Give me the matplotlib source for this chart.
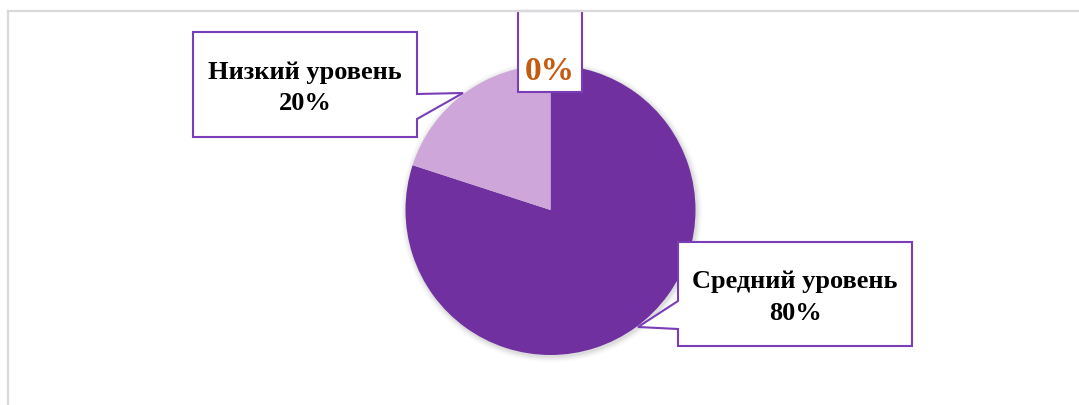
import matplotlib
matplotlib.use("Agg")
import matplotlib.pyplot as plt
from matplotlib.patches import Polygon, Circle
from matplotlib.lines import Line2D

# Data
categories = ["Средний уровень", "Низкий уровень", "Высокий уровень"]
shares = [80, 20, 0]
slice_colors = ["#7030A0", "#CFA6DA", "#B99BD0"]

W, H = 1079, 406
fig = plt.figure(figsize=(W / 100, H / 100), dpi=100)
fig.patch.set_facecolor("white")

# Chart area frame (top and left edges visible)
fig.add_artist(Line2D([8 / W, 1.0], [1 - 11.5 / H, 1 - 11.5 / H],
                      color="#D9D9D9", lw=1.6, transform=fig.transFigure))
fig.add_artist(Line2D([8 / W, 8 / W], [0.0, 1 - 11.5 / H],
                      color="#D9D9D9", lw=1.6, transform=fig.transFigure))

ax = fig.add_axes([0, 0, 1, 1])
ax.set_xlim(0, W)
ax.set_ylim(0, H)
ax.set_aspect("equal")
ax.axis("off")


def py(y):
    """Convert a top-down pixel row to data y."""
    return H - y


cx, cy, r = 550.5, py(211), 145

# Soft shadow around the pie
for k, a in zip(range(6, 0, -1), [0.012, 0.016, 0.02, 0.025, 0.03, 0.035]):
    ax.add_patch(Circle((cx + 1, cy - 1.5), r + k, color="black", alpha=a,
                        lw=0, zorder=1))

wedges, _ = ax.pie(shares, colors=slice_colors, startangle=90,
                   counterclock=False, center=(cx, cy), radius=r,
                   wedgeprops=dict(linewidth=0), frame=True)
for w in wedges:
    w.set_zorder(2)
ax.set_xlim(0, W)
ax.set_ylim(0, H)
ax.axis("off")

box_edge = "#7A3DB8"
font = dict(family=["Liberation Serif", "DejaVu Serif"], weight="bold")


def callout(points):
    poly = Polygon([(x, py(y)) for x, y in points], closed=True,
                   facecolor="white", edgecolor=box_edge, lw=1.5, zorder=5,
                   joinstyle="miter")
    ax.add_patch(poly)


total = sum(shares)
pct = [f"{round(v * 100 / total)}%" for v in shares]

# Low level label with pointer to the right
callout([(193, 33), (417, 33), (417, 95), (463, 94), (417, 120),
         (417, 138), (193, 138)])
ax.text(305, py(88), f"{categories[1]}\n{pct[1]}", ha="center", va="center",
        fontsize=19, color="black", linespacing=1.5, zorder=6, **font)

# Middle level label with pointer to the left
callout([(678, 243), (912, 243), (912, 347), (678, 347), (678, 330),
         (638, 328), (678, 302)])
ax.text(795, py(298), f"{categories[0]}\n{pct[0]}", ha="center", va="center",
        fontsize=19, color="black", linespacing=1.5, zorder=6, **font)

# Zero-share label
callout([(518, 12), (582, 12), (582, 93), (518, 93)])
ax.text(550, py(71), pct[2], ha="center", va="center", fontsize=24,
        color="#C55A11", zorder=6, **font)

fig.savefig("out.png", dpi=100, facecolor="white")
